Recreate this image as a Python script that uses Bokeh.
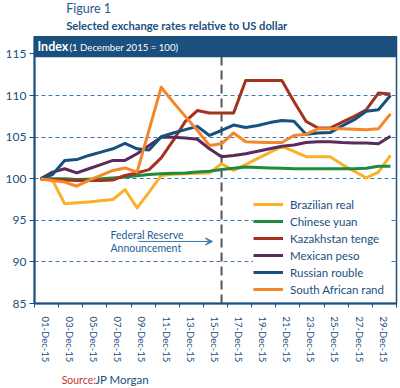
from bokeh.plotting import figure
from bokeh.layouts import column
from bokeh.models import (Range1d, FixedTicker, Legend, LegendItem, BoxAnnotation,
                          Label, Arrow, VeeHead)
from bokeh.embed import file_html
from bokeh.resources import INLINE

# ---------------- data ----------------
DAYS = list(range(1, 31))                       # 1..30 December 2015
TICK_DAYS = list(range(1, 31, 2))
TICK_LABELS = ["01-Dec-15", "03-Dec-15", "05-Dec-15", "07-Dec-15", "09-Dec-15",
               "11-Dec-15", "13-Dec-15", "15-Dec-15", "17-Dec-15", "19-Dec-15",
               "21-Dec-15", "23-Dec-15", "25-Dec-15", "27-Dec-15", "29-Dec-15"]
Y_TICKS = [85, 90, 95, 100, 105, 110, 115]
FED_DAY = 16

brazil = [100, 99.8, 97.0, 97.1, 97.2, 97.35, 97.5, 98.7, 96.5, 98.4,
          100.4, 100.55, 100.6, 100.65, 100.7, 101.8, 101.0, 101.7, 102.45, 103.15,
          103.9, 103.3, 102.65, 102.65, 102.65, 101.7, 100.9, 100.1, 100.8, 102.8]
china = [100, 100.0, 100.0, 99.9, 99.95, 100.0, 100.1, 100.2, 100.35, 100.5,
         100.6, 100.65, 100.7, 100.8, 100.9, 101.1, 101.25, 101.4, 101.35, 101.3,
         101.25, 101.2, 101.2, 101.2, 101.2, 101.2, 101.2, 101.25, 101.5, 101.5]
kazakh = [100, 99.9, 99.85, 99.8, 99.8, 99.8, 99.85, 100.4, 100.7, 101.1,
          102.5, 104.6, 106.9, 108.2, 107.9, 107.9, 107.9, 111.8, 111.8, 111.8,
          111.8, 109.3, 106.9, 106.1, 106.1, 106.8, 107.5, 108.3, 110.3, 110.2]
mexico = [100, 100.8, 101.2, 100.7, 101.2, 101.7, 102.2, 102.2, 103.0, 104.0,
          105.0, 105.0, 104.9, 104.75, 103.6, 102.65, 102.8, 103.0, 103.3, 103.6,
          103.9, 104.05, 104.35, 104.45, 104.45, 104.35, 104.3, 104.3, 104.2, 105.1]
russia = [100, 100.5, 102.2, 102.3, 102.8, 103.2, 103.6, 104.25, 103.6, 103.45,
          105.05, 105.5, 105.9, 106.3, 105.2, 105.8, 106.45, 106.15, 106.4, 106.75,
          107.0, 106.9, 105.35, 105.5, 105.55, 106.35, 107.1, 108.1, 108.3, 110.0]
rand = [100, 99.8, 99.6, 99.1, 99.8, 100.4, 101.0, 101.3, 100.8, 105.9,
        111.0, 109.2, 107.5, 105.8, 104.0, 104.2, 105.5, 104.45, 104.4, 104.35,
        104.35, 105.2, 105.35, 106.0, 106.0, 106.0, 105.95, 105.9, 106.0, 107.8]

SERIES = [
    ("Brazilian real", brazil, "#fbb02a"),
    ("Chinese yuan", china, "#1f8a3c"),
    ("Kazakhstan tenge", kazakh, "#a3321f"),
    ("Mexican peso", mexico, "#5a2a5c"),
    ("Russian rouble", russia, "#15507f"),
    ("South African rand", rand, "#f5862a"),
]

# ---------------- style ----------------
NAVY = "#1a4f7e"
GRID = "#3f78ad"
FONT = "Lato"
W = 400

X0, X1 = 0.5, 30.5
Y0, Y1 = 85, 117.1
FL, FR, FT, FB = 34, 396, 36, 305   # frame edges in page pixels
MAIN_TOP, MAIN_H = 36, 329


def dx(px):
    return X0 + (px - FL) * (X1 - X0) / (FR - FL)


def dy(py):
    return Y0 + (FB - py) * (Y1 - Y0) / (FB - FT)


def blank(height):
    f = figure(width=W, height=height, x_range=Range1d(0, W), y_range=Range1d(0, height),
               output_backend="svg", toolbar_location=None, min_border=0)
    f.axis.visible = False
    f.grid.visible = False
    f.outline_line_color = None
    return f


# ---------------- title strip ----------------
top = blank(MAIN_TOP)
top.add_layout(Label(x=35, y=MAIN_TOP - 8, text="Figure 1", text_font=FONT,
                     text_font_size="12.5px", text_color="#1f5a8c", text_baseline="middle"))
top.add_layout(Label(x=35, y=MAIN_TOP - 25, text="Selected exchange rates relative to US dollar",
                     text_font=FONT, text_font_style="bold", text_font_size="11.2px",
                     text_color=NAVY, text_baseline="middle"))

# ---------------- main chart ----------------
p = figure(width=W, height=MAIN_H, x_range=Range1d(X0, X1), y_range=Range1d(Y0, Y1),
           output_backend="svg", toolbar_location=None,
           min_border_left=FL, min_border_right=W - FR, min_border_top=0,
           min_border_bottom=MAIN_H - (FB - MAIN_TOP))
p.background_fill_color = "white"
p.border_fill_color = "white"
p.outline_line_color = NAVY
p.outline_line_width = 1.5

p.xgrid.visible = False
p.ygrid.ticker = FixedTicker(ticks=Y_TICKS)
p.ygrid.grid_line_color = GRID
p.ygrid.grid_line_dash = "4 3"
p.ygrid.grid_line_width = 1

p.yaxis.ticker = FixedTicker(ticks=Y_TICKS)
p.yaxis.axis_line_color = NAVY
p.yaxis.axis_line_width = 2
p.yaxis.major_tick_line_color = NAVY
p.yaxis.major_tick_out = 5
p.yaxis.major_tick_in = 0
p.yaxis.minor_tick_line_color = None
p.yaxis.major_label_text_color = NAVY
p.yaxis.major_label_text_font = FONT
p.yaxis.major_label_text_font_size = "12px"
p.yaxis.major_label_standoff = 3

lab_pos = [d + 0.4 for d in TICK_DAYS]
p.xaxis.ticker = FixedTicker(ticks=lab_pos, minor_ticks=[d - 0.5 for d in TICK_DAYS] + [X1])
p.xaxis.major_label_overrides = {pos: lab for pos, lab in zip(lab_pos, TICK_LABELS)}
p.xaxis.axis_line_color = NAVY
p.xaxis.axis_line_width = 2
p.xaxis.major_tick_line_color = None
p.xaxis.major_tick_out = 0
p.xaxis.major_tick_in = 0
p.xaxis.minor_tick_line_color = NAVY
p.xaxis.minor_tick_out = 4
p.xaxis.minor_tick_in = 0
p.xaxis.major_label_orientation = "vertical"
p.xaxis.major_label_text_color = NAVY
p.xaxis.major_label_text_font = FONT
p.xaxis.major_label_text_font_size = "9.5px"
p.xaxis.major_label_standoff = 9

p.line([FED_DAY, FED_DAY], [Y0, 115.2], line_color="#555555", line_width=2, line_dash="9 5")

items = []
for name, vals, col in SERIES:
    r = p.line(DAYS, vals, line_color=col, line_width=3, line_join="round")
    items.append(LegendItem(label=name, renderers=[r]))

legend = Legend(items=items, location="bottom_right", orientation="vertical",
                glyph_width=30, glyph_height=14, label_height=14, label_width=99,
                spacing=3, padding=8, margin=7, label_standoff=7,
                label_text_font=FONT, label_text_font_size="11.5px",
                label_text_color=NAVY, background_fill_color="white",
                background_fill_alpha=1, border_line_color=None)
p.add_layout(legend)

p.add_layout(BoxAnnotation(bottom=dy(57), fill_color=NAVY, fill_alpha=1, line_color=None))
p.add_layout(Label(x=dx(37), y=dy(46.5), text="Index", text_font=FONT,
                   text_font_style="bold", text_font_size="12.5px", text_color="white",
                   text_baseline="middle"))
p.add_layout(Label(x=dx(69), y=dy(47), text="(1 December 2015 = 100)", text_font=FONT,
                   text_font_size="9.6px", text_color="white", text_baseline="middle"))

p.add_layout(Label(x=dx(110), y=dy(236), text="Federal Reserve", text_font=FONT,
                   text_font_size="10.5px", text_color="#24609a", text_baseline="middle"))
p.add_layout(Label(x=dx(110), y=dy(249), text="Announcement", text_font=FONT,
                   text_font_size="10.5px", text_color="#24609a", text_baseline="middle"))
p.add_layout(Arrow(x_start=dx(138), y_start=dy(242.5), x_end=FED_DAY - 0.75, y_end=dy(242.5),
                   line_color="#3b78b0", line_width=1,
                   end=VeeHead(size=7, fill_color="#3b78b0", line_color="#3b78b0")))

# ---------------- source strip ----------------
SRC_H = 388 - MAIN_TOP - MAIN_H
src = blank(SRC_H)
src.add_layout(Label(x=30, y=SRC_H - 14, text="Source:", text_font=FONT,
                     text_font_size="10.5px", text_color="#c8322c", text_baseline="middle"))
src.add_layout(Label(x=67, y=SRC_H - 14, text="JP Morgan", text_font=FONT,
                     text_font_size="11.5px", text_color=NAVY, text_baseline="middle"))

layout = column(top, p, src, spacing=0)
open("out.html", "w").write(file_html(layout, INLINE))
